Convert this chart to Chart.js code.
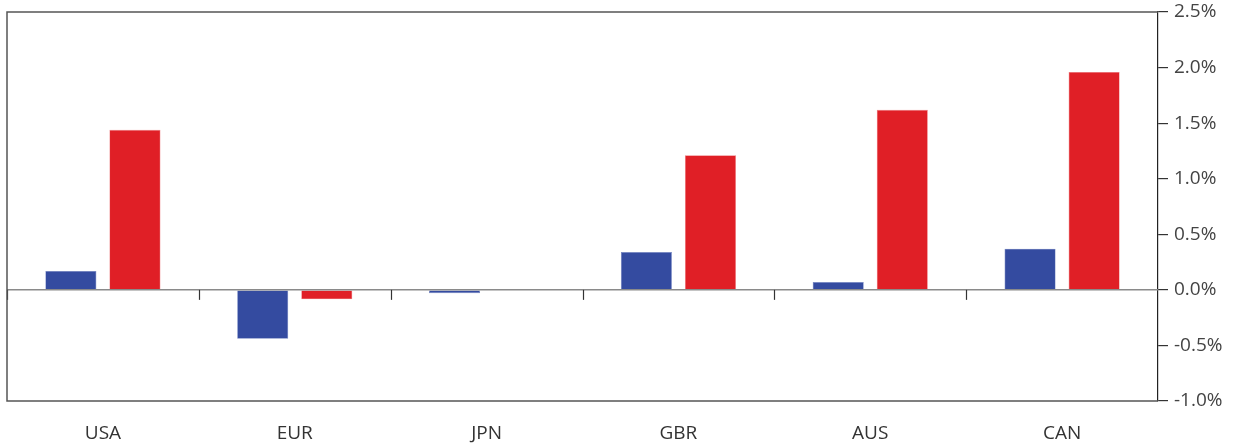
<!DOCTYPE html>
<html>
<head>
<meta charset="utf-8">
<script src="https://cdn.jsdelivr.net/npm/chart.js@4.4.1/dist/chart.umd.min.js"></script>
<style>
  html, body { margin: 0; padding: 0; background: #ffffff; }
  #wrap { width: 1239px; height: 448px; position: relative; }
</style>
</head>
<body>
<div id="wrap"><canvas id="c" width="1239" height="448"></canvas></div>
<script>
// Currency areas along the horizontal axis
const categories = ['USA', 'EUR', 'JPN', 'GBR', 'AUS', 'CAN'];
// Two series, in percent
const seriesBlue = [0.17, -0.44, -0.03, 0.34, 0.07, 0.37];
const seriesRed  = [1.44, -0.085, -0.005, 1.21, 1.62, 1.96];
// Right-hand axis range and step, in percent
const yMin = -1.0;
const yMax = 2.5;
const yStep = 0.5;

const BLUE = '#344ba0';
const RED = '#e01f26';
const FONT = "'Open Sans', 'Noto Sans', 'DejaVu Sans', sans-serif";

// Frame around the plot, the zero line and the short category separators on it
const framePlugin = {
  id: 'frame',
  afterDatasetsDraw(chart) {
    const { ctx, chartArea: a, scales } = chart;
    const x = scales.x, y = scales.y;
    const y0 = y.getPixelForValue(0);
    ctx.save();
    // zero line
    ctx.strokeStyle = '#8a8a8a';
    ctx.lineWidth = 1.5;
    ctx.beginPath();
    ctx.moveTo(a.left, y0);
    ctx.lineTo(a.right, y0);
    ctx.stroke();
    // category boundary ticks hanging below the zero line
    ctx.strokeStyle = '#333333';
    ctx.lineWidth = 1.2;
    const n = categories.length;
    for (let i = 0; i < n; i++) {
      let px;
      if (i === 0) px = a.left + 0.5;
      else px = Math.round((x.getPixelForValue(i - 1) + x.getPixelForValue(i)) / 2) + 0.5;
      ctx.beginPath();
      ctx.moveTo(px, y0);
      ctx.lineTo(px, y0 + 10);
      ctx.stroke();
    }
    // left, top and bottom frame lines
    ctx.strokeStyle = '#555555';
    ctx.lineWidth = 1.5;
    ctx.beginPath();
    ctx.moveTo(a.right, a.top);
    ctx.lineTo(a.left, a.top);
    ctx.lineTo(a.left, a.bottom);
    ctx.lineTo(a.right, a.bottom);
    ctx.stroke();
    ctx.restore();
  }
};

new Chart(document.getElementById('c'), {
  type: 'bar',
  data: {
    labels: categories,
    datasets: [
      { data: seriesBlue, backgroundColor: BLUE, borderColor: '#6f80c0', borderWidth: 0.6 },
      { data: seriesRed, backgroundColor: RED, borderColor: '#ee7a7e', borderWidth: 0.6 }
    ]
  },
  options: {
    responsive: false,
    animation: false,
    devicePixelRatio: 1,
    layout: { padding: { left: 7, top: 12, right: 0, bottom: 0 } },
    categoryPercentage: 0.668,
    barPercentage: 0.797,
    plugins: {
      legend: { display: false },
      tooltip: { enabled: false }
    },
    scales: {
      x: {
        grid: { display: false },
        border: { display: false },
        ticks: {
          color: '#333333',
          font: { family: FONT, size: 19 },
          padding: 13,
          maxRotation: 0
        },
        afterFit(scale) {
          scale.height = 47;
          scale.paddingLeft = 0;
          scale.paddingRight = 0;
        }
      },
      y: {
        position: 'right',
        min: yMin,
        max: yMax,
        grid: {
          drawOnChartArea: false,
          tickLength: 10,
          color: '#333333',
          lineWidth: 1.2
        },
        border: { display: true, color: '#222222', width: 1.2 },
        ticks: {
          stepSize: yStep,
          color: '#444444',
          font: { family: FONT, size: 19 },
          padding: 6,
          callback: v => v.toFixed(1) + '%'
        },
        afterFit(scale) {
          scale.width = 81;
          scale.paddingTop = 0;
          scale.paddingBottom = 0;
        }
      }
    }
  },
  plugins: [framePlugin]
});
</script>
</body>
</html>
